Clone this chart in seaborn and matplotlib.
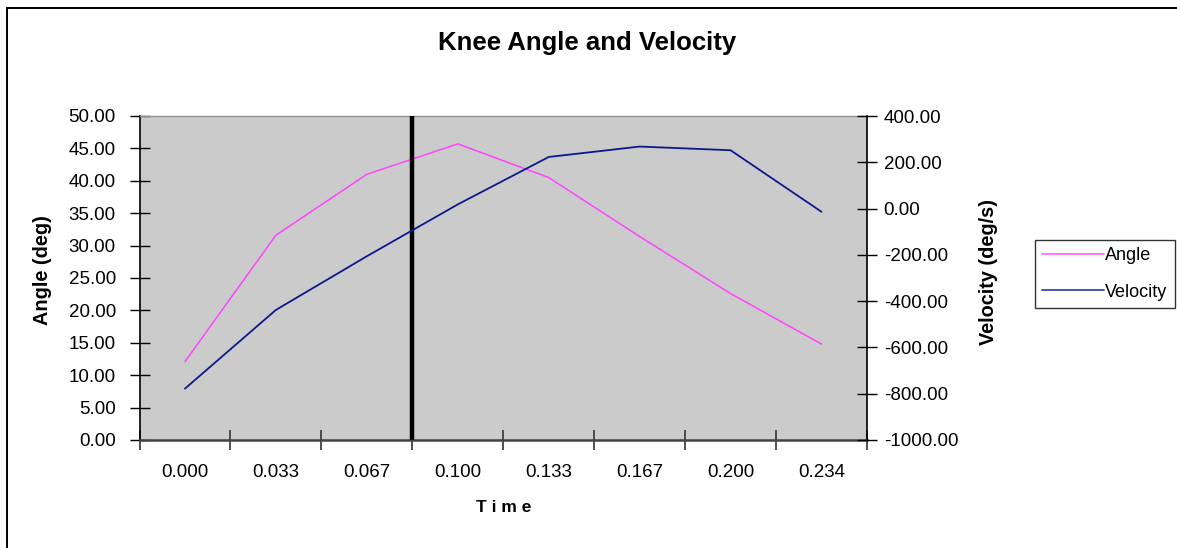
import numpy as np
import pandas as pd
import matplotlib
matplotlib.use("Agg")
import matplotlib.pyplot as plt
from matplotlib.lines import Line2D
import seaborn as sns

# ---- data ----
time_labels = ["0.000", "0.033", "0.067", "0.100", "0.133", "0.167", "0.200", "0.234"]
angle = [12.1, 31.6, 41.0, 45.7, 40.5, 31.4, 22.6, 14.8]
velocity = [-778, -438, -206, 18, 223, 268, 252, -14]
left_ticks = [0, 5, 10, 15, 20, 25, 30, 35, 40, 45, 50]
right_ticks = [-1000, -800, -600, -400, -200, 0, 200, 400]
marker_boundary = 2.5  # vertical line between 0.067 and 0.100

sns.set_theme(style="white")
plt.rcParams["font.family"] = ["Liberation Sans", "DejaVu Sans"]
plt.rcParams["text.color"] = "black"
plt.rcParams["xtick.color"] = "black"
plt.rcParams["ytick.color"] = "black"
plt.rcParams["axes.labelcolor"] = "black"

W, H = 1177, 548
fig = plt.figure(figsize=(W / 100, H / 100), dpi=100)
fig.patch.set_facecolor("white")

x0, x1, y0, y1 = 139.5, 867.0, 116.0, 440.0
ax = fig.add_axes([x0 / W, 1 - y1 / H, (x1 - x0) / W, (y1 - y0) / H])
ax.set_facecolor("#CBCBCB")

idx = np.arange(len(time_labels))
df = pd.DataFrame({"idx": idx, "Angle": angle, "Velocity": velocity})

sns.lineplot(data=df, x="idx", y="Angle", ax=ax, color="#FF44FF", linewidth=1.1, legend=False)
ax2 = ax.twinx()
sns.lineplot(data=df, x="idx", y="Velocity", ax=ax2, color="#0A1A8C", linewidth=1.3, legend=False)

ax.set_xlim(-0.5, len(time_labels) - 0.5)
ax.set_ylim(0, 50)
ax2.set_ylim(-1000, 400)

ax.axvline(marker_boundary, color="black", linewidth=3.2, zorder=5)

# spines
for a in (ax, ax2):
    for s in a.spines.values():
        s.set_visible(False)
ax.spines["left"].set_visible(True)
ax.spines["left"].set_color("black")
ax.spines["left"].set_linewidth(1.2)
ax.spines["bottom"].set_visible(True)
ax.spines["bottom"].set_color("#444444")
ax.spines["bottom"].set_linewidth(1.8)
ax.spines["top"].set_visible(True)
ax.spines["top"].set_color("#909090")
ax.spines["top"].set_linewidth(1.0)
ax2.spines["right"].set_visible(True)
ax2.spines["right"].set_color("black")
ax2.spines["right"].set_linewidth(1.2)

# x ticks: marks at boundaries, labels at centers
ax.set_xticks(idx)
ax.set_xticklabels(time_labels, fontsize=13.5, color="black")
ax.tick_params(axis="x", which="major", length=0, pad=17)
ax.set_xticks(np.arange(-0.5, len(time_labels) + 0.5, 1.0), minor=True)
ax.tick_params(axis="x", which="minor", length=14, direction="inout", width=1.2, color="#333333", bottom=True)

ax.set_yticks(left_ticks)
ax.set_yticklabels([f"{v:.2f}" for v in left_ticks], fontsize=13.5, color="black")
ax.tick_params(axis="y", which="major", length=14, direction="inout", width=1.0, color="black", pad=10, left=True)

ax2.set_yticks(right_ticks)
ax2.set_yticklabels([f"{v:.2f}" for v in right_ticks], fontsize=13.5, color="black")
ax2.tick_params(axis="y", which="major", length=14, direction="inout", width=1.0, color="black", pad=5, right=True)

ax.set_xlabel("")
ax.set_ylabel("")
ax2.set_ylabel("")
ax.grid(False)
ax2.grid(False)

# titles / labels
fig.text(587 / W, 1 - 43 / H, "Knee Angle and Velocity", ha="center", va="center",
         fontsize=18.5, fontweight="bold", color="black")
fig.text(42 / W, 1 - 270 / H, "Angle (deg)", ha="center", va="center", rotation=90,
         fontsize=14.3, fontweight="bold", color="black")
fig.text(989 / W, 1 - 272 / H, "Velocity (deg/s)", ha="center", va="center", rotation=90,
         fontsize=14.3, fontweight="bold", color="black")
fig.text(504 / W, 1 - 507 / H, "T i m e", ha="center", va="center",
         fontsize=12.5, fontweight="bold", color="black")

# legend
h1 = Line2D([], [], color="#FF66FF", linewidth=1.2)
h2 = Line2D([], [], color="#4455AA", linewidth=1.4)
leg = fig.legend([h1, h2], ["Angle", "Velocity"], loc="upper left",
                 bbox_to_anchor=(1035 / W, 1 - 240 / H), frameon=True, fancybox=False,
                 fontsize=13, handlelength=3.4, handletextpad=0.1, labelspacing=1.08,
                 borderpad=0.4, borderaxespad=0)
leg.get_frame().set_edgecolor("black")
leg.get_frame().set_linewidth(1.0)
for t in leg.get_texts():
    t.set_color("black")

# chart frame (top and left edges visible)
fig.add_artist(Line2D([7 / W, 1.0], [1 - 8 / H, 1 - 8 / H], color="black", linewidth=1.4,
                      transform=fig.transFigure))
fig.add_artist(Line2D([7 / W, 7 / W], [0.0, 1 - 8 / H], color="black", linewidth=1.4,
                      transform=fig.transFigure))

fig.savefig("out.png", dpi=100)
